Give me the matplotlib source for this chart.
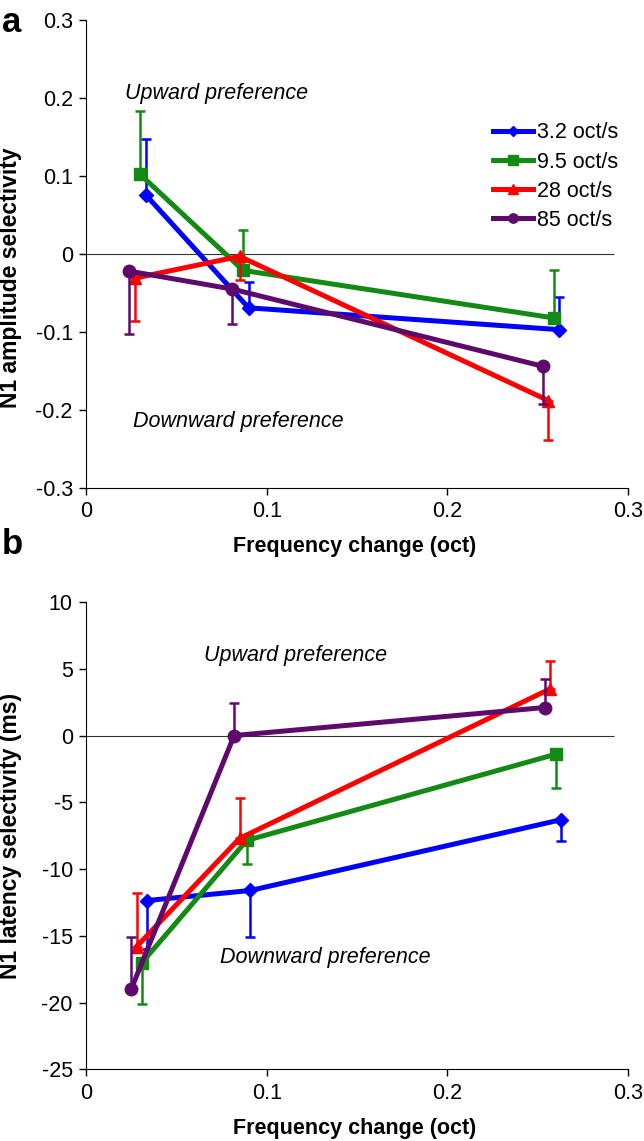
import matplotlib
matplotlib.use("Agg")
import matplotlib.pyplot as plt
from matplotlib.lines import Line2D

plt.rcParams["font.family"] = ["Liberation Sans", "DejaVu Sans"]
plt.rcParams["axes.unicode_minus"] = False

labels = ["3.2 oct/s", "9.5 oct/s", "28 oct/s", "85 oct/s"]
colors = ["#0000FF", "#138A13", "#FF0000", "#5E0A6C"]
markers = ["D", "s", "^", "o"]
msizes = [7, 9, 9, 9]

# panel a: N1 amplitude selectivity
amp_x = [[0.033, 0.090, 0.262],
         [0.030, 0.087, 0.259],
         [0.027, 0.085, 0.256],
         [0.024, 0.081, 0.253]]
amp_y = [[0.076, -0.069, -0.097],
         [0.102, -0.021, -0.082],
         [-0.031, -0.003, -0.188],
         [-0.022, -0.045, -0.144]]
amp_err = [[0.072, 0.033, 0.042],
           [0.081, 0.052, 0.061],
           [0.055, 0.030, 0.050],
           [0.080, 0.045, 0.048]]
amp_up = [True, True, False, False]

# panel b: N1 latency selectivity (ms)
lat_x = [[0.034, 0.091, 0.263],
         [0.031, 0.089, 0.260],
         [0.028, 0.085, 0.257],
         [0.025, 0.082, 0.254]]
lat_y = [[-12.35, -11.6, -6.3],
         [-17.0, -7.85, -1.4],
         [-15.8, -7.7, 3.5],
         [-19.0, 0.0, 2.1]]
lat_err = [[3.6, 3.5, 1.6],
           [3.1, 1.8, 2.5],
           [4.0, 3.0, 2.1],
           [3.9, 2.4, 2.1]]
lat_up = [False, False, True, True]

x_ticks = [0, 0.1, 0.2, 0.3]
x_ticklabels = ["0", "0.1", "0.2", "0.3"]
amp_ticks = [-0.3, -0.2, -0.1, 0, 0.1, 0.2, 0.3]
amp_ticklabels = ["-0.3", "-0.2", "-0.1", "0", "0.1", "0.2", "0.3"]
lat_ticks = [-25, -20, -15, -10, -5, 0, 5, 10]
lat_ticklabels = ["-25", "-20", "-15", "-10", "-5", "0", "5", "10"]

FS = 15.5


def drawPanel(ax, xs, ys, errs, up, yticks, yticklabels, ylabel, ylabel_y):
    for i in range(4):
        n = len(errs[i])
        if up[i]:
            yerr = [[0] * n, errs[i]]
        else:
            yerr = [errs[i], [0] * n]
        ax.errorbar(xs[i], ys[i], yerr=yerr, color=colors[i], marker=markers[i],
                    markersize=msizes[i], linewidth=3.6, elinewidth=1.8,
                    capsize=3.5, capthick=1.8, zorder=3 + i)
    ax.hlines(0, 0, 0.292, color="#333333", linewidth=0.8, zorder=2)
    ax.set_xlim(0, 0.3)
    ax.set_ylim(yticks[0], yticks[-1])
    ax.set_xticks(x_ticks)
    ax.set_xticklabels(x_ticklabels)
    ax.set_yticks(yticks)
    ax.set_yticklabels(yticklabels)
    ax.spines["top"].set_visible(False)
    ax.spines["right"].set_visible(False)
    ax.tick_params(direction="out", length=5, width=1, labelsize=FS, pad=4.5)
    ax.set_xlabel("Frequency change (oct)", fontsize=FS, fontweight="bold")
    ax.set_ylabel(ylabel, fontsize=16.5, fontweight="bold")
    ax.xaxis.set_label_coords(0.495, -0.103)
    ax.yaxis.set_label_coords(-0.118, ylabel_y)


fig = plt.figure(figsize=(6.44, 11.41), dpi=100)
ax1 = fig.add_axes([0.1335, 0.5723, 0.8416, 0.4102])
ax2 = fig.add_axes([0.1335, 0.0627, 0.8416, 0.4097])

drawPanel(ax1, amp_x, amp_y, amp_err, amp_up, amp_ticks, amp_ticklabels,
          "N1 amplitude selectivity", 0.45)
drawPanel(ax2, lat_x, lat_y, lat_err, lat_up, lat_ticks, lat_ticklabels,
          "N1 latency selectivity (ms)", 0.5)

ax1.text(0.0216, 0.206, "Upward preference", style="italic", fontsize=FS, va="center")
ax1.text(0.026, -0.215, "Downward preference", style="italic", fontsize=FS, va="center")
ax2.text(0.0654, 6.0, "Upward preference", style="italic", fontsize=FS, va="center")
ax2.text(0.0742, -16.6, "Downward preference", style="italic", fontsize=FS, va="center")

handles = [Line2D([], [], color=colors[i], marker=markers[i], linewidth=3.6,
                  markersize=msizes[i] * 0.75) for i in range(4)]
ax1.legend(handles, labels, loc="upper left", bbox_to_anchor=(0.751, 0.781),
           frameon=False, fontsize=FS, handlelength=1.85, handletextpad=0.2,
           labelspacing=0.38, borderpad=0, borderaxespad=0)

fig.text(0.003, 0.995, "a", fontsize=25, fontweight="bold", va="top")
fig.text(0.003, 0.537, "b", fontsize=25, fontweight="bold", va="top")

fig.savefig("out.png", dpi=100)
